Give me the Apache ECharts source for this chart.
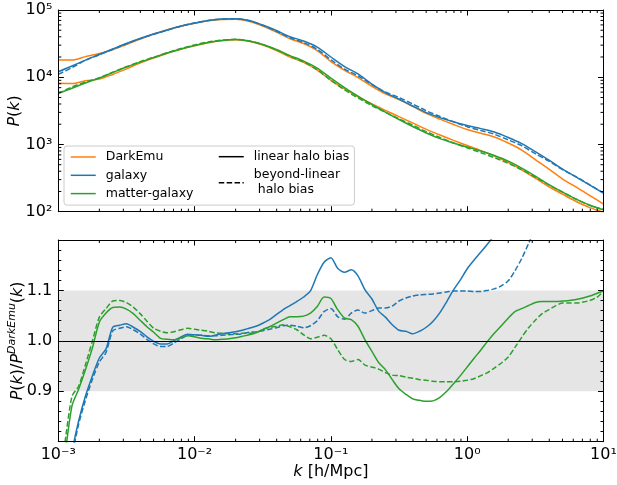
<!DOCTYPE html>
<html>
<head>
<meta charset="utf-8">
<script src="https://cdn.jsdelivr.net/npm/echarts@6/dist/echarts.min.js"></script>
<style>
  html, body { margin: 0; padding: 0; background: #fff; }
  #chart { width: 617px; height: 485px; }
</style>
</head>
<body>
<div id="chart"></div>
<script>
// upper panel: wavenumber grid (h/Mpc) and power spectra
const kTop = [0.001, 0.00126, 0.00158, 0.002, 0.00251, 0.00316, 0.00398, 0.00501, 0.00631, 0.00794,
  0.01, 0.0126, 0.0158, 0.02, 0.0251, 0.0316, 0.0398, 0.0501, 0.0631, 0.0794,
  0.1, 0.126, 0.158, 0.2, 0.251, 0.316, 0.398, 0.501, 0.631, 0.794,
  1, 1.26, 1.58, 2, 2.51, 3.16, 3.98, 5.01, 6.31, 7.94, 10];

const pDarkEmuGal = [18000, 18000, 20250, 22500, 25600, 30700, 36900, 43900, 50700, 57400,
  63300, 69100, 72500, 73000, 68100, 57800, 47100, 37400, 31800, 24900,
  17100, 12700, 9900, 7320, 5660, 4640, 3680, 2900, 2380, 1980,
  1670, 1470, 1290, 1050, 825, 596, 430, 306, 232, 174, 130];
const pDarkEmuCross = [8110, 8060, 8840, 9370, 11000, 13300, 16200, 19300, 22800, 26100,
  29400, 32700, 35000, 36100, 34200, 30000, 25000, 20000, 16600, 12800,
  8980, 6720, 5110, 4010, 3220, 2590, 2090, 1680, 1380, 1150,
  966, 811, 674, 541, 419, 315, 235, 182, 142, 115, 98.6];
const pGalaxy = [12070, 14680, 18000, 21770, 26280, 31730, 37660, 43900, 50400, 57800,
  64000, 69800, 73500, 74200, 69800, 59800, 49500, 40100, 34600, 28100,
  20000, 14400, 11200, 7920, 5920, 4740, 3730, 2980, 2510, 2180,
  1910, 1720, 1530, 1270, 1030, 784, 586, 430, 327, 249, 189];
const pGalaxyBeyond = [11000, 13900, 17800, 21600, 26100, 31500, 37500, 43600, 50200, 57600,
  64000, 69800, 73200, 74000, 69300, 59000, 48300, 38600, 32700, 25900,
  18200, 13200, 10500, 7760, 6020, 5000, 4010, 3170, 2610, 2170,
  1840, 1610, 1420, 1170, 960, 730, 564, 422, 330, 250, 189];
const pCross = [5760, 6840, 8200, 9730, 11700, 14200, 16800, 19600, 22900, 26300,
  29600, 32800, 35200, 36400, 34600, 30700, 25800, 21000, 17400, 13700,
  9730, 7030, 5250, 3930, 3030, 2350, 1850, 1480, 1220, 1050,
  915, 798, 684, 566, 446, 339, 253, 196, 154, 125, 107];
const pCrossBeyond = [5720, 7170, 8430, 9800, 11900, 14300, 17000, 19800, 23200, 26700,
  30200, 33400, 35500, 36600, 34700, 30800, 25700, 20600, 16800, 12900,
  9030, 6470, 4920, 3790, 3010, 2410, 1940, 1550, 1270, 1050,
  890, 755, 638, 524, 422, 328, 250, 195, 153, 124, 108];

// lower panel: ratio to DarkEmu
const kRatio = [0.001, 0.00112, 0.00126, 0.00141, 0.00158, 0.00178, 0.002, 0.00224, 0.00251, 0.00282,
  0.00316, 0.00355, 0.00398, 0.00447, 0.00501, 0.00562, 0.00631, 0.00708, 0.00794, 0.00891,
  0.01, 0.0112, 0.0126, 0.0141, 0.0158, 0.0178, 0.02, 0.0224, 0.0251, 0.0282,
  0.0316, 0.0355, 0.0398, 0.0447, 0.0501, 0.0562, 0.0631, 0.0708, 0.0794, 0.0891,
  0.1, 0.112, 0.126, 0.141, 0.158, 0.178, 0.2, 0.224, 0.251, 0.282,
  0.316, 0.355, 0.398, 0.447, 0.501, 0.562, 0.631, 0.708, 0.794, 0.891,
  1, 1.12, 1.26, 1.41, 1.58, 1.78, 2, 2.24, 2.51, 2.82,
  3.16, 3.55, 3.98, 4.47, 5.01, 5.62, 6.31, 7.08, 7.94, 8.91, 10];
const rGalaxy = [0.62, 0.70, 0.78, 0.841, 0.890, 0.931, 0.966, 0.984, 1.027, 1.031,
  1.034, 1.027, 1.019, 1.008, 0.999, 0.994, 0.994, 1.001, 1.008, 1.013,
  1.012, 1.011, 1.009, 1.011, 1.014, 1.016, 1.018, 1.021, 1.025, 1.029,
  1.035, 1.042, 1.052, 1.062, 1.070, 1.078, 1.087, 1.099, 1.131, 1.156,
  1.165, 1.144, 1.136, 1.141, 1.129, 1.101, 1.083, 1.059, 1.047, 1.032,
  1.021, 1.019, 1.014, 1.019, 1.027, 1.039, 1.056, 1.078, 1.101, 1.121,
  1.143, 1.160, 1.176, 1.192, 1.209, 1.226, 1.243, 1.26, 1.28, 1.30,
  1.32, 1.34, 1.36, 1.37, 1.39, 1.40, 1.42, 1.43, 1.44, 1.45, 1.46];
const rGalaxyBeyond = [0.61, 0.69, 0.77, 0.835, 0.882, 0.924, 0.958, 0.977, 1.020, 1.025,
  1.028, 1.022, 1.014, 1.003, 0.994, 0.989, 0.989, 0.996, 1.004, 1.011,
  1.012, 1.011, 1.010, 1.010, 1.011, 1.012, 1.013, 1.014, 1.017, 1.018,
  1.020, 1.023, 1.026, 1.030, 1.031, 1.029, 1.026, 1.030, 1.040, 1.058,
  1.064, 1.048, 1.043, 1.055, 1.061, 1.055, 1.060, 1.065, 1.065, 1.069,
  1.079, 1.085, 1.089, 1.091, 1.092, 1.093, 1.095, 1.097, 1.099, 1.099,
  1.099, 1.098, 1.098, 1.100, 1.103, 1.109, 1.119, 1.139, 1.163, 1.193,
  1.225, 1.27, 1.31, 1.35, 1.38, 1.40, 1.42, 1.43, 1.44, 1.45, 1.46];
const rCross = [0.676, 0.774, 0.871, 0.904, 0.942, 0.986, 1.037, 1.055, 1.066, 1.067,
  1.063, 1.054, 1.041, 1.028, 1.017, 1.005, 1.003, 1.002, 1.006, 1.010,
  1.008, 1.005, 1.004, 1.002, 1.003, 1.004, 1.006, 1.009, 1.012, 1.016,
  1.022, 1.028, 1.035, 1.042, 1.048, 1.048, 1.049, 1.055, 1.068, 1.087,
  1.084, 1.062, 1.045, 1.042, 1.029, 1.002, 0.979, 0.957, 0.943, 0.923,
  0.905, 0.894, 0.885, 0.882, 0.880, 0.881, 0.888, 0.900, 0.915, 0.931,
  0.948, 0.965, 0.982, 0.999, 1.015, 1.030, 1.045, 1.058, 1.064, 1.070,
  1.076, 1.078, 1.078, 1.078, 1.079, 1.080, 1.082, 1.085, 1.089, 1.094, 1.099];
const rCrossBeyond = [0.706, 0.799, 0.890, 0.910, 0.952, 1.000, 1.047, 1.064, 1.079, 1.080,
  1.076, 1.067, 1.054, 1.039, 1.025, 1.019, 1.016, 1.018, 1.022, 1.025,
  1.023, 1.021, 1.019, 1.016, 1.015, 1.014, 1.014, 1.015, 1.015, 1.016,
  1.023, 1.027, 1.029, 1.032, 1.028, 1.022, 1.012, 1.004, 1.007, 1.011,
  1.004, 0.983, 0.963, 0.959, 0.963, 0.952, 0.948, 0.944, 0.937, 0.932,
  0.931, 0.928, 0.926, 0.923, 0.922, 0.920, 0.919, 0.919, 0.919, 0.920,
  0.922, 0.925, 0.931, 0.937, 0.946, 0.956, 0.968, 0.987, 1.007, 1.026,
  1.041, 1.054, 1.062, 1.070, 1.075, 1.075, 1.075, 1.077, 1.080, 1.086, 1.098];

// ticks
const xTickLabels = ['10⁻³', '10⁻²', '10⁻¹', '10⁰', '10¹'];
const pTickLabels = ['10²', '10³', '10⁴', '10⁵'];
const rTickLabels = ['', '0.9', '1.0', '1.1', ''];
const kMinor = [0.002, 0.003, 0.004, 0.005, 0.006, 0.007, 0.008, 0.009,
  0.02, 0.03, 0.04, 0.05, 0.06, 0.07, 0.08, 0.09,
  0.2, 0.3, 0.4, 0.5, 0.6, 0.7, 0.8, 0.9,
  2, 3, 4, 5, 6, 7, 8, 9];
const pMinor = [200, 300, 400, 500, 600, 700, 800, 900,
  2000, 3000, 4000, 5000, 6000, 7000, 8000, 9000,
  20000, 30000, 40000, 50000, 60000, 70000, 80000, 90000];

const FONT = 'DejaVu Sans';
const ORANGE = '#ff7f0e', BLUE = '#1f77b4', GREEN = '#2ca02c';
const DASH = [5.5, 2.4];
const MAJOR = 5.5, MINOR = 3;

const chart = echarts.init(document.getElementById('chart'));

const pairs = (ks, vs) => ks.map((k, i) => [k, vs[i]]);

function line(name, grid, ks, vs, color, dashed, smooth) {
  return {
    name: name,
    type: 'line',
    xAxisIndex: grid * 2,
    yAxisIndex: grid * 2,
    data: pairs(ks, vs),
    symbol: 'none',
    smooth: smooth,
    z: 2,
    lineStyle: { color: color, width: 1.5, type: dashed ? DASH : 'solid' },
    itemStyle: { color: color },
    silent: true
  };
}

const tickStyle = { stroke: '#000', lineWidth: 1 };

function minorX(params, api) {
  const cs = params.coordSys;
  const x = api.coord([api.value(0), api.value(1)])[0];
  const b = cs.y + cs.height;
  return {
    type: 'group',
    children: [
      { type: 'line', shape: { x1: x, y1: b, x2: x, y2: b - MINOR }, style: tickStyle },
      { type: 'line', shape: { x1: x, y1: cs.y, x2: x, y2: cs.y + MINOR }, style: tickStyle }
    ]
  };
}

function minorY(params, api) {
  const cs = params.coordSys;
  const y = api.coord([api.value(0), api.value(1)])[1];
  const r = cs.x + cs.width;
  return {
    type: 'group',
    children: [
      { type: 'line', shape: { x1: cs.x, y1: y, x2: cs.x + MINOR, y2: y }, style: tickStyle },
      { type: 'line', shape: { x1: r, y1: y, x2: r - MINOR, y2: y }, style: tickStyle }
    ]
  };
}

function xAxis(grid, position, labels) {
  return {
    gridIndex: grid,
    type: 'log',
    logBase: 10,
    min: 0.001,
    max: 10,
    splitNumber: 4,
    position: position,
    z: 4,
    axisLine: { show: true, lineStyle: { color: '#000', width: 1 } },
    axisTick: { show: true, inside: true, length: MAJOR, lineStyle: { color: '#000' } },
    splitLine: { show: false },
    axisLabel: {
      show: labels,
      fontFamily: FONT,
      fontSize: 16,
      color: '#000',
      margin: 5,
      formatter: v => xTickLabels[Math.round(Math.log10(v)) + 3]
    },
    name: labels ? '{i|k} [h/Mpc]' : '',
    nameLocation: 'middle',
    nameGap: 22,
    nameMoveOverlap: false,
    nameTextStyle: {
      fontFamily: FONT, fontSize: 16, color: '#000',
      rich: { i: { fontFamily: FONT, fontSize: 16, fontStyle: 'italic', color: '#000' } }
    }
  };
}

const legendText = { fontFamily: FONT, fontSize: 12.5, color: '#000', lineHeight: 15, padding: [0, 0, 0, 5] };

const option = {
  animation: false,
  backgroundColor: '#fff',
  grid: [
    { left: 58.3, top: 10, width: 545.2, height: 201.7, containLabel: false, outerBoundsMode: 'none' },
    { left: 58.3, top: 240, width: 545.2, height: 201.7, containLabel: false, outerBoundsMode: 'none' }
  ],
  xAxis: [
    xAxis(0, 'bottom', false),
    xAxis(0, 'top', false),
    xAxis(1, 'bottom', true),
    xAxis(1, 'top', false)
  ],
  yAxis: [
    {
      gridIndex: 0, type: 'log', logBase: 10, min: 100, max: 100000, splitNumber: 3,
      position: 'left', z: 4,
      axisLine: { show: true, lineStyle: { color: '#000', width: 1 } },
      axisTick: { show: true, inside: true, length: MAJOR, lineStyle: { color: '#000' } },
      splitLine: { show: false },
      axisLabel: {
        fontFamily: FONT, fontSize: 16, color: '#000', margin: 6,
        formatter: v => pTickLabels[Math.round(Math.log10(v)) - 2]
      },
      name: '{i|P}({i|k})',
      nameLocation: 'middle',
      nameRotate: 90,
      nameGap: 35,
      nameMoveOverlap: false,
      nameTextStyle: {
        fontFamily: FONT, fontSize: 16, color: '#000',
        rich: { i: { fontFamily: FONT, fontSize: 16, fontStyle: 'italic', color: '#000' } }
      }
    },
    {
      gridIndex: 0, type: 'log', logBase: 10, min: 100, max: 100000, splitNumber: 3,
      position: 'right', z: 4,
      axisLine: { show: true, lineStyle: { color: '#000', width: 1 } },
      axisTick: { show: true, inside: true, length: MAJOR, lineStyle: { color: '#000' } },
      splitLine: { show: false },
      axisLabel: { show: false }
    },
    {
      gridIndex: 1, type: 'value', min: 0.8, max: 1.2, interval: 0.1,
      position: 'left', z: 4,
      axisLine: { show: true, lineStyle: { color: '#000', width: 1 } },
      axisTick: { show: true, inside: true, length: MAJOR, lineStyle: { color: '#000' } },
      minorTick: { show: true, splitNumber: 5, length: MINOR, lineStyle: { color: '#000' } },
      splitLine: { show: false },
      axisLabel: {
        fontFamily: FONT, fontSize: 16, color: '#000', margin: 6,
        formatter: v => rTickLabels[Math.round((v - 0.8) / 0.1)]
      },
      name: '{i|P}({i|k})/{i|P}{s|DarkEmu}({i|k})',
      nameLocation: 'middle',
      nameRotate: 90,
      nameGap: 28,
      nameMoveOverlap: false,
      nameTextStyle: {
        fontFamily: FONT, fontSize: 16, color: '#000', lineHeight: 24,
        rich: {
          i: { fontFamily: FONT, fontSize: 16, fontStyle: 'italic', color: '#000', lineHeight: 24 },
          s: { fontFamily: FONT, fontSize: 11, fontStyle: 'italic', color: '#000', lineHeight: 13, verticalAlign: 'top' }
        }
      }
    },
    {
      gridIndex: 1, type: 'value', min: 0.8, max: 1.2, interval: 0.1,
      position: 'right', z: 4,
      axisLine: { show: true, lineStyle: { color: '#000', width: 1 } },
      axisTick: { show: true, inside: true, length: MAJOR, lineStyle: { color: '#000' } },
      minorTick: { show: true, splitNumber: 5, length: MINOR, lineStyle: { color: '#000' } },
      splitLine: { show: false },
      axisLabel: { show: false }
    }
  ],
  legend: [
    {
      data: ['DarkEmu', 'galaxy', 'matter-galaxy'],
      orient: 'vertical',
      left: 64,
      top: 146,
      padding: [3.5, 161, 4, 6],
      itemGap: 3.3,
      itemWidth: 25,
      itemHeight: 14,
      selectedMode: false,
      backgroundColor: 'rgba(255,255,255,0.8)',
      borderColor: '#cccccc',
      borderWidth: 1,
      borderRadius: 3,
      z: 6,
      itemStyle: { opacity: 0, borderWidth: 0 },
      lineStyle: { width: 1.5 },
      textStyle: legendText
    },
    {
      data: ['linear halo bias', 'beyond-linear halo bias'],
      orient: 'vertical',
      left: 218,
      top: 149.2,
      padding: 0,
      itemGap: 3.5,
      itemWidth: 25,
      itemHeight: 14,
      selectedMode: false,
      z: 7,
      itemStyle: { opacity: 0, borderWidth: 0 },
      lineStyle: { width: 1.5 },
      formatter: n => n === 'beyond-linear halo bias' ? 'beyond-linear\n halo bias' : n,
      textStyle: legendText
    }
  ],
  series: [
    line('DarkEmu', 0, kTop, pDarkEmuGal, ORANGE, false, 0.3),
    line('DarkEmu', 0, kTop, pDarkEmuCross, ORANGE, false, 0.3),
    line('galaxy', 0, kTop, pGalaxy, BLUE, false, 0.3),
    line('galaxy', 0, kTop, pGalaxyBeyond, BLUE, true, 0.3),
    line('matter-galaxy', 0, kTop, pCross, GREEN, false, 0.3),
    line('matter-galaxy', 0, kTop, pCrossBeyond, GREEN, true, 0.3),
    {
      name: 'linear halo bias', type: 'line', xAxisIndex: 0, yAxisIndex: 0, data: [],
      symbol: 'none', lineStyle: { color: '#000', width: 1.5 }, itemStyle: { color: '#000' }
    },
    {
      name: 'beyond-linear halo bias', type: 'line', xAxisIndex: 0, yAxisIndex: 0, data: [],
      symbol: 'none', lineStyle: { color: '#000', width: 1.5, type: DASH }, itemStyle: { color: '#000' }
    },
    {
      name: 'band', type: 'line', xAxisIndex: 2, yAxisIndex: 2, data: [], z: 1, silent: true,
      markArea: {
        silent: true,
        itemStyle: { color: '#e5e5e5', opacity: 1 },
        data: [[{ yAxis: 0.9 }, { yAxis: 1.1 }]]
      },
      markLine: {
        silent: true,
        symbol: ['none', 'none'],
        label: { show: false },
        lineStyle: { color: '#000', width: 1, type: 'solid' },
        data: [{ yAxis: 1.0 }]
      }
    },
    line('galaxy', 1, kRatio, rGalaxy, BLUE, false, 0.25),
    line('galaxy', 1, kRatio, rGalaxyBeyond, BLUE, true, 0.25),
    line('matter-galaxy', 1, kRatio, rCross, GREEN, false, 0.25),
    line('matter-galaxy', 1, kRatio, rCrossBeyond, GREEN, true, 0.25),
    {
      type: 'custom', xAxisIndex: 0, yAxisIndex: 0, z: 5, silent: true,
      renderItem: minorX, data: kMinor.map(k => [k, 1000])
    },
    {
      type: 'custom', xAxisIndex: 0, yAxisIndex: 0, z: 5, silent: true,
      renderItem: minorY, data: pMinor.map(p => [0.01, p])
    },
    {
      type: 'custom', xAxisIndex: 2, yAxisIndex: 2, z: 5, silent: true,
      renderItem: minorX, data: kMinor.map(k => [k, 1])
    }
  ]
};

chart.setOption(option);
</script>
</body>
</html>
